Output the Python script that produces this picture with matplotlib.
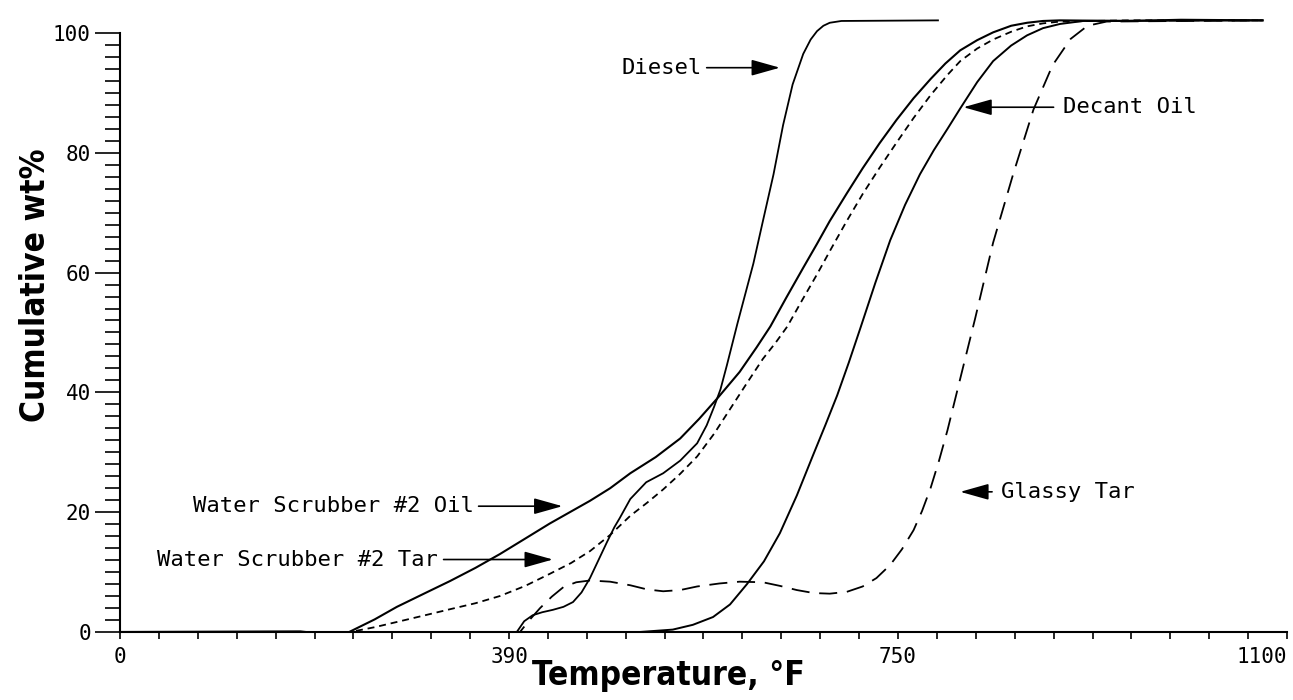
import matplotlib.pyplot as plt
import numpy as np

plt.rcParams['font.family'] = 'DejaVu Sans Mono'
plt.rcParams['lines.scale_dashes'] = False

# simulated distillation curves, temperature (F) vs cumulative wt%
oil_t = [0, 170, 190, 212, 216, 240, 261, 290, 311, 335, 358, 382, 405, 425, 443, 462,
         481, 505, 528, 546, 564, 584, 600, 613, 628, 644, 657, 669, 685, 700, 716, 732,
         748, 764, 778, 792, 808, 823, 840, 855, 870, 886, 950, 1000, 1077]
oil_w = [0, 0.1, -0.3, -0.2, 0, 2.1, 4.2, 6.7, 8.5, 10.7, 13.0, 15.6, 18.1, 20.1, 21.9, 24.0,
         26.5, 29.2, 32.3, 35.6, 39.2, 43.4, 47.5, 51.0, 55.8, 60.8, 64.8, 68.6, 73.2, 77.4, 81.6, 85.5,
         89.1, 92.3, 94.9, 97.1, 98.8, 100.1, 101.2, 101.7, 102.0, 102.1, 102.0, 102.2, 102.1]

tar_t = [0, 217, 240, 264, 290, 311, 335, 358, 382, 405, 425, 443, 462, 481, 497, 512,
         528, 544, 560, 575, 590, 606, 618, 629, 643, 657, 671, 685, 700, 716, 732, 748,
         764, 780, 792, 808, 823, 840, 855, 870, 886, 950, 1077]
tar_w = [0, 0, 0.8, 1.8, 2.9, 3.8, 4.8, 6.0, 7.7, 9.7, 11.5, 13.5, 16.2, 19.4, 21.6, 23.8,
         26.4, 29.3, 33.1, 37.2, 41.3, 45.6, 48.3, 51.0, 55.4, 59.7, 64.2, 68.6, 73.1, 77.5, 81.7, 85.8,
         89.6, 93.0, 95.3, 97.4, 98.9, 100.2, 101.1, 101.6, 101.9, 102.1, 102.1]

diesel_t = [0, 374, 381, 389, 398, 408, 418, 427, 435, 443, 451, 459, 466, 471, 481, 496,
            512, 528, 544, 553, 560, 566, 572, 582, 597, 606, 616, 625, 634, 644, 651, 657,
            663, 669, 680, 771]
diesel_w = [0, 0, 1.8, 2.8, 3.3, 3.7, 4.2, 5.0, 6.6, 9.0, 12.0, 15.0, 17.5, 19.0, 22.2, 25.0,
            26.5, 28.6, 31.5, 34.5, 37.6, 40.5, 44.5, 51.5, 61.5, 68.6, 76.4, 84.6, 91.4, 96.5, 98.9, 100.3,
            101.2, 101.7, 102.0, 102.1]

decant_t = [0, 490, 521, 540, 559, 575, 591, 607, 622, 638, 653, 665, 676, 687, 698, 712,
            726, 740, 754, 767, 780, 792, 808, 823, 840, 855, 870, 886, 908, 1077]
decant_w = [0, 0, 0.4, 1.2, 2.5, 4.6, 8.0, 11.8, 16.5, 22.8, 29.4, 34.6, 39.5, 45.0, 50.8, 58.3,
            65.4, 71.3, 76.4, 80.4, 84.0, 87.4, 91.8, 95.3, 97.9, 99.6, 100.8, 101.5, 102.0, 102.1]

glassy_t = [0, 377, 386, 396, 407, 418, 430, 443, 462, 481, 497, 512, 528, 544, 565,
            584, 606, 622, 638, 654, 669, 685, 700, 713, 726, 737, 748, 756, 764, 772,
            780, 792, 806, 823, 842, 861, 879, 896, 912, 930, 1077]
glassy_w = [0, 0, 2.0, 4.0, 5.9, 7.5, 8.3, 8.6, 8.4, 7.8, 7.1, 6.8, 7.0, 7.6, 8.1,
            8.4, 8.3, 7.7, 7.0, 6.5, 6.4, 6.7, 7.6, 9.0, 11.2, 13.8, 17.0, 20.2, 24.0, 28.6,
            33.7, 42.3, 52.3, 65.0, 76.5, 87.2, 94.6, 99.0, 101.2, 101.9, 102.1]

tick_text = ['0', '390', '750', '1100']

fig = plt.figure(figsize=(12.93, 7.0), dpi=100)
ax = fig.add_axes([120 / 1293, 68 / 700, 1167 / 1293, 632 / 700])

lw = 1.3
ax.plot(oil_t, oil_w, color='black', lw=lw + 0.2)
ax.plot(tar_t, tar_w, color='black', lw=lw, dashes=(5, 3.5))
ax.plot(diesel_t, diesel_w, color='black', lw=lw)
ax.plot(decant_t, decant_w, color='black', lw=lw + 0.1)
ax.plot(glassy_t, glassy_w, color='black', lw=lw, dashes=(13, 7))

ax.set_xlim(0, 1100)
ax.set_ylim(0, 105.5)
ax.spines['top'].set_visible(False)
ax.spines['right'].set_visible(False)
ax.spines['left'].set_bounds(0, 100)
ax.spines['left'].set_linewidth(1.5)
ax.spines['bottom'].set_linewidth(1.5)

ax.set_xticks(np.linspace(0, 1100, 4))
ax.set_xticks(np.linspace(0, 1100, 31), minor=True)
xl = ax.set_xticklabels(tick_text)
xl[-1].set_horizontalalignment('right')
ax.set_yticks(np.arange(0, 101, 20))
ax.set_yticks(np.arange(0, 101, 2), minor=True)
ax.tick_params(axis='x', which='both', direction='out', length=5, width=1.2, pad=6, labelsize=15)
ax.tick_params(axis='y', which='major', direction='out', length=18, width=1.2, pad=3, labelsize=15)
ax.tick_params(axis='y', which='minor', direction='out', length=10.5, width=1.2)

# curve labels with arrows
arrow = dict(arrowstyle='-|>,head_length=1.6,head_width=0.45', color='black', lw=1.2,
             mutation_scale=11, shrinkA=0, shrinkB=0)
fs = 16
ax.text(69, 21.0, 'Water Scrubber #2 Oil', fontsize=fs, va='center', ha='left')
ax.annotate('', xy=(417, 21.0), xytext=(338, 21.0), arrowprops=arrow)
ax.text(35, 12.1, 'Water Scrubber #2 Tar', fontsize=fs, va='center', ha='left')
ax.annotate('', xy=(408, 12.1), xytext=(305, 12.1), arrowprops=arrow)
ax.text(473, 94.2, 'Diesel', fontsize=fs, va='center', ha='left')
ax.annotate('', xy=(622, 94.2), xytext=(553, 94.2), arrowprops=arrow)
ax.text(889, 87.6, 'Decant Oil', fontsize=fs, va='center', ha='left')
ax.annotate('', xy=(795, 87.6), xytext=(880, 87.6), arrowprops=arrow)
ax.text(830, 23.4, 'Glassy Tar', fontsize=fs, va='center', ha='left')
ax.annotate('', xy=(792, 23.4), xytext=(822, 23.4), arrowprops=arrow)

lab_font = ['DejaVu Sans']
fig.text(668 / 1293, 1 - 676 / 700, 'Temperature, °F', family=lab_font, fontweight='bold',
         fontstretch='condensed', fontsize=24, ha='center', va='center')
fig.text(36 / 1293, 1 - 285 / 700, 'Cumulative wt%', family=lab_font, fontweight='bold',
         fontstretch='condensed', fontsize=24, ha='center', va='center', rotation=90)

plt.savefig('out.png', dpi=100)
